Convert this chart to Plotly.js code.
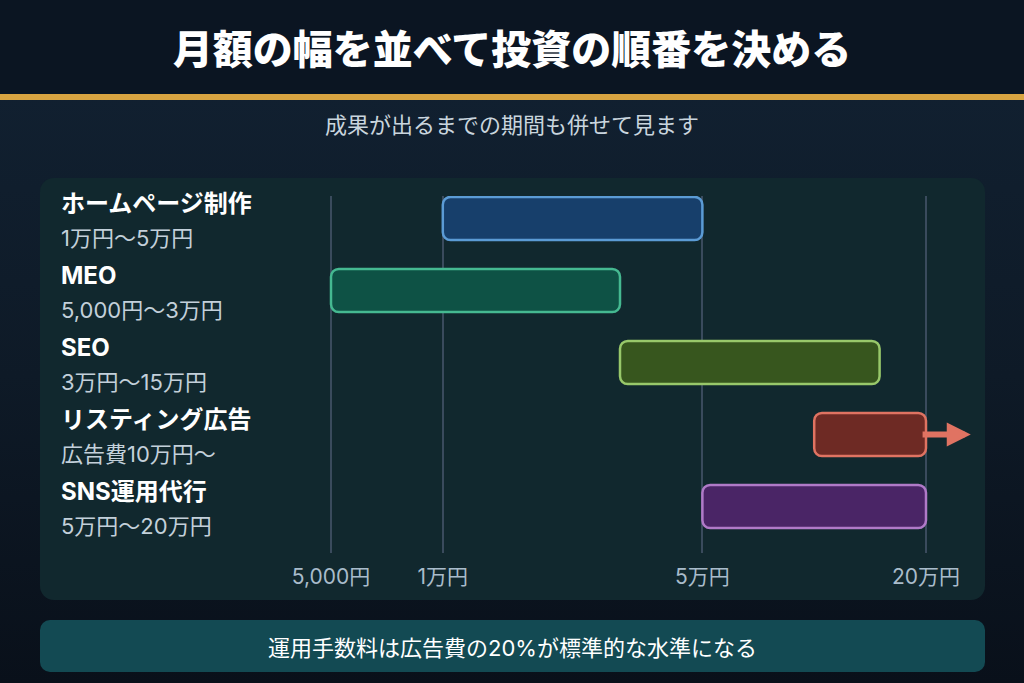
<!DOCTYPE html>
<html lang="ja">
<head>
<meta charset="utf-8">
<script src="https://cdn.plot.ly/plotly-3.0.1.min.js"></script>
<style>
  html, body { margin: 0; padding: 0; }
  body {
    width: 1024px; height: 683px; overflow: hidden; position: relative;
    font-family: "Inter", "Noto Sans CJK JP", sans-serif;
    background: linear-gradient(180deg, #122233 0%, #0e1a27 55%, #09101a 100%);
  }
  .head {
    position: absolute; left: 0; top: 0; width: 1024px; height: 94px;
    background: #0b1522; border-bottom: 6px solid #d9a441;
    color: #fff; font-weight: 900; font-size: 40px;
    display: flex; align-items: center; justify-content: center;
  }
  .sub {
    position: absolute; left: 0; top: 111px; width: 1024px; text-align: center;
    color: #c9d5de; font-size: 22px; line-height: 28px;
  }
  .card {
    position: absolute; left: 40px; top: 178px; width: 945px; height: 422px;
    background: #11282e; border-radius: 14px;
  }
  #chart { position: absolute; left: 0; top: 0; width: 945px; height: 422px; }
  .note {
    position: absolute; left: 40px; top: 620px; width: 945px; height: 52px;
    background: #134a53; border-radius: 10px; color: #fff; font-size: 22px;
    display: flex; align-items: center; justify-content: center;
  }
</style>
</head>
<body>
<div class="head">月額の幅を並べて投資の順番を決める</div>
<div class="sub">成果が出るまでの期間も併せて見ます</div>
<div class="card"><div id="chart"></div></div>
<div class="note">運用手数料は広告費の20%が標準的な水準になる</div>
<script>
// 施策ごとの月額レンジ（円）
const services = ["ホームページ制作", "MEO", "SEO", "リスティング広告", "SNS運用代行"];
const priceLabels = ["1万円～5万円", "5,000円～3万円", "3万円～15万円", "広告費10万円～", "5万円～20万円"];
const minYen = [10000, 5000, 30000, 100000, 50000];
const maxYen = [50000, 30000, 150000, 200000, 200000];
const openEnded = [false, false, false, true, false];

const tickYen = [5000, 10000, 50000, 200000];
const tickText = ["5,000円", "1万円", "5万円", "20万円"];

const fillColors = ["#173f6b", "#0e5245", "#37561e", "#6e2a24", "#4a2566"];
const lineColors = ["#5b9bd5", "#45b991", "#98c86a", "#e07362", "#b07ac8"];

const rows = services.map((_, i) => i);

let bars = {
  type: "bar",
  orientation: "h",
  y: rows,
  base: minYen,
  x: maxYen.map((v, i) => v - minYen[i]),
  width: 0.6,
  marker: {
    color: fillColors,
    line: {color: lineColors, width: 2.5},
    cornerradius: 8,
  },
  hoverinfo: "skip",
  showlegend: false,
};

let annotations = [];
services.forEach((name, i) => {
  annotations.push({
    xref: "paper", x: -0.3518, xanchor: "left",
    yref: "y", y: i, yshift: 15, yanchor: "middle",
    text: "<b>" + name + "</b>", showarrow: false,
    font: {size: 24, color: "#ffffff"},
  });
  annotations.push({
    xref: "paper", x: -0.3518, xanchor: "left",
    yref: "y", y: i, yshift: -19, yanchor: "middle",
    text: priceLabels[i], showarrow: false,
    font: {size: 22, color: "#c3d0da"},
  });
  if (openEnded[i]) {
    // 上限なしを示す矢印（ログ軸なので座標はlog10）
    annotations.push({
      xref: "x", yref: "y", axref: "x", ayref: "y",
      x: Math.log10(maxYen[i] * 1.32), y: i,
      ax: Math.log10(maxYen[i] * 0.97), ay: i,
      text: "", showarrow: true,
      arrowhead: 2, arrowsize: 0.8, arrowwidth: 6,
      arrowcolor: lineColors[i],
    });
  }
});

let layout = {
  width: 945,
  height: 422,
  margin: {l: 260, r: 0, t: 18, b: 47},
  paper_bgcolor: "rgba(0,0,0,0)",
  plot_bgcolor: "rgba(0,0,0,0)",
  font: {family: '"Inter", "Noto Sans CJK JP", sans-serif'},
  bargap: 0,
  xaxis: {
    type: "log",
    range: [3.6155, 5.4599],
    tickvals: tickYen,
    ticktext: tickText,
    showgrid: true,
    gridcolor: "#3a4b5d",
    gridwidth: 2,
    zeroline: false,
    showline: false,
    ticks: "",
    ticklabelstandoff: 9,
    tickfont: {size: 21, color: "#a9bccb"},
    fixedrange: true,
  },
  yaxis: {
    range: [4.6458, -0.3125],
    visible: false,
    fixedrange: true,
  },
  annotations: annotations,
};

Plotly.newPlot("chart", [bars], layout, {
  displayModeBar: false,
  staticPlot: true,
});
</script>
</body>
</html>
